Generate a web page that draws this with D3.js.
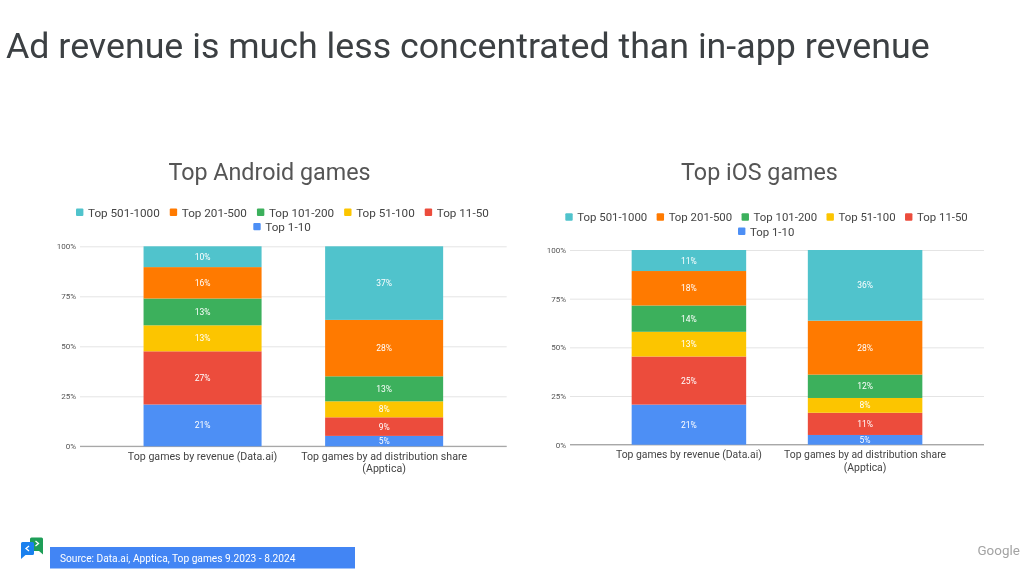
<!DOCTYPE html>
<html><head><meta charset="utf-8">
<script src="https://cdn.jsdelivr.net/npm/d3@7/dist/d3.min.js"></script>
<style>html,body{margin:0;padding:0;background:#fff}svg{display:block;font-family:Roboto,sans-serif;filter:blur(0.35px)}</style>
</head><body><svg id="c" width="1024" height="573"></svg>
<script>
const headline = "Ad revenue is much less concentrated than in-app revenue";
const sourceNote = "Source: Data.ai, Apptica, Top games 9.2023 - 8.2024";
const tiers = ["Top 1-10","Top 11-50","Top 51-100","Top 101-200","Top 201-500","Top 501-1000"];
const tierColors = ["#4d8ff5","#ec4c3c","#fcc500","#3cb05c","#ff7a00","#50c3cc"];
const categories = ["Top games by revenue (Data.ai)","Top games by ad distribution share|(Apptica)"];
const androidRevenue = [20.9,26.6,13.0,13.4,15.7,10.4];
const androidAds = [5.2,9.3,8.0,12.5,28.2,36.8];
const iosRevenue = [20.6,24.7,12.7,13.5,17.7,10.8];
const iosAds = [5.0,11.4,7.6,12.0,27.7,36.3];
const yTicks = [0,25,50,75,100];

const svg = d3.select("#c");
const hl = svg.append("text").attr("x",6).attr("y",58).attr("font-size",36).attr("fill","#3c4043")
   .attr("font-family","Roboto,sans-serif").text(headline);
hl.attr("font-size",36*924/hl.node().getComputedTextLength());

function chart(o){
  const g = svg.append("g");
  const x = d3.scaleBand().domain(categories).range([o.left,o.right]).padding(0.35);
  const y = d3.scaleLinear().domain([0,100]).range([o.bottom,o.top]);
  g.append("text").attr("x",o.titleX).attr("y",o.titleY).attr("text-anchor","middle")
    .attr("font-size",23.3).attr("fill","#555").text(o.title);

  // grid and y axis
  const yAxis = d3.axisLeft(y).tickValues(yTicks).tickFormat(d=>d+"%").tickSize(-(o.right-o.left)).tickPadding(4);
  const ga = g.append("g").attr("transform",`translate(${o.left},0)`).call(yAxis);
  ga.select(".domain").remove();
  ga.selectAll("line").attr("stroke","#e4e4e4").attr("stroke-width",1);
  ga.selectAll("text").attr("font-size",8).attr("fill","#555").attr("font-family","Roboto");
  g.append("line").attr("x1",o.left).attr("x2",o.right).attr("y1",y(0)).attr("y2",y(0))
    .attr("stroke","#a8a8a8").attr("stroke-width",1.2);

  // stacks
  const rows = categories.map((c,i)=>{const r={cat:c};tiers.forEach((t,k)=>r[t]=o.series[i][k]);return r;});
  const stack = d3.stack().keys(tiers)(rows);
  const color = d3.scaleOrdinal(tiers,tierColors);
  const layer = g.selectAll(".l").data(stack).join("g").attr("class","l").attr("fill",d=>color(d.key));
  layer.selectAll("rect").data(d=>d).join("rect")
    .attr("x",d=>x(d.data.cat)).attr("width",x.bandwidth())
    .attr("y",d=>y(d[1])).attr("height",d=>y(d[0])-y(d[1]));
  layer.selectAll("text").data(d=>d).join("text")
    .attr("x",d=>x(d.data.cat)+x.bandwidth()/2).attr("y",d=>(y(d[0])+y(d[1]))/2+3)
    .attr("text-anchor","middle").attr("font-size",8.5).attr("fill","#fff")
    .text(d=>Math.round(d[1]-d[0])+"%");

  // category labels: one text element per category, wrapped with tspans
  categories.forEach(c=>{
    const cx = x(c)+x.bandwidth()/2;
    const t = g.append("text").attr("x",cx).attr("y",y(0)+13.6).attr("text-anchor","middle")
      .attr("font-size",o.catSize).attr("fill","#444");
    c.split("|").forEach((ln,i)=>{
      t.append("tspan").attr("x",cx).attr("dy",i?12.4:0).text(ln);
    });
  });

  // legend (top tier first, wraps to second row)
  const rev = tiers.slice().reverse();
  const firstRow = rev.slice(0,5), second = rev.slice(5);
  const place = (items,startX,ly)=>{
    let cx = startX;
    items.forEach(t=>{
      g.append("rect").attr("x",cx).attr("y",ly-3.7).attr("width",7.4).attr("height",7.4).attr("rx",1).attr("fill",color(t));
      const tx = g.append("text").attr("x",cx+12).attr("y",ly+4.2).attr("font-size",o.legendSize).attr("fill","#444").text(t);
      cx += 12 + tx.node().getComputedTextLength() + o.legendGap;
    });
  };
  place(firstRow,o.legendX,o.legendY);
  place(second,o.legendX2,o.legendY+14.3);
}

chart({title:"Top Android games",titleX:269.5,titleY:180,left:80,right:506.7,top:246.3,bottom:446.3,catSize:10.65,
  series:[androidRevenue,androidAds],legendX:76,legendX2:253.3,legendY:212.3,legendSize:11.7,legendGap:10});
chart({title:"Top iOS games",titleX:759.5,titleY:180,left:570,right:984,top:250,bottom:444.7,catSize:10.4,
  series:[iosRevenue,iosAds],legendX:565.3,legendX2:738,legendY:217,legendSize:11.4,legendGap:9.4});

// source box
svg.append("rect").attr("x",50).attr("y",547).attr("width",305).attr("height",21.5).attr("fill","#4285f4");
svg.append("text").attr("x",60).attr("y",562).attr("font-size",10.2).attr("fill","#fff").text(sourceNote);

// logo
const logo = svg.append("g");
logo.append("path").attr("d","M30 539a1.5 1.5 0 0 1 1.5-1.5h10a1.5 1.5 0 0 1 1.5 1.5v15.5l-4-3.5h-9z").attr("fill","#1e9e58");
logo.append("path").attr("d","M21 543.5a1.5 1.5 0 0 1 1.5-1.5h10a1.5 1.5 0 0 1 1.5 1.5v10a1.5 1.5 0 0 1-1.5 1.5h-7l-4.5 4z").attr("fill","#1a80ee");
logo.append("path").attr("d","M29 546l-3 2.5 3 2.5").attr("fill","none").attr("stroke","#fff").attr("stroke-width",1.3);
logo.append("path").attr("d","M35.5 541l3 2.5-3 2.5").attr("fill","none").attr("stroke","#fff").attr("stroke-width",1.3);

svg.append("text").attr("x",977.5).attr("y",555).attr("font-size",13.4).attr("fill","#a3a3a3").text("Google");
</script></body></html>
